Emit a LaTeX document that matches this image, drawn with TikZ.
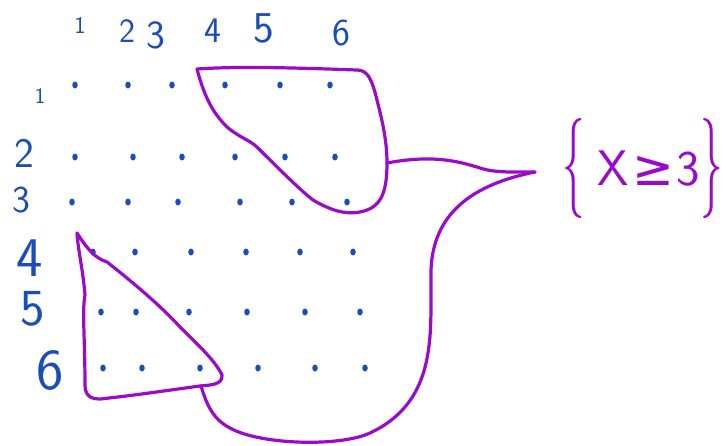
\documentclass[tikz,border=0pt]{standalone}
\usepackage{fontspec}
\usepackage{tikz}
\usetikzlibrary{shapes.geometric}
\newfontfamily\symfont{DejaVu Sans}

\definecolor{inkblue}{RGB}{26,77,184}
\definecolor{inkpurple}{RGB}{154,10,203}

\newcommand{\tallbrace}[1]{\raisebox{-0.15em}{\scalebox{0.9}[2.0]{#1}}}

\begin{document}
\begin{tikzpicture}[x=1pt,y=-1pt,
  dot/.style={ellipse,fill=inkblue,inner sep=0pt,minimum width=5.5pt,minimum height=7pt},
  lbl/.style={text=inkblue,inner sep=0pt},
  region/.style={draw=inkpurple,line width=3.2pt,line cap=round,line join=round}]
\useasboundingbox (0,0) rectangle (726,445);

% column labels
\node[lbl,font=\sffamily\fontsize{24}{24}\selectfont] (c1) at (80,25) {1};
\node[lbl,font=\sffamily\fontsize{34}{34}\selectfont] (c2) at (127,31) {2};
\node[lbl,font=\sffamily\fontsize{40}{40}\selectfont] (c3) at (156,35) {3};
\node[lbl,font=\sffamily\fontsize{36}{36}\selectfont] (c4) at (213,31) {4};
\node[lbl,font=\sffamily\fontsize{44}{44}\selectfont] (c5) at (264,28) {5};
\node[lbl,font=\sffamily\fontsize{38}{38}\selectfont] (c6) at (341,33) {6};

% row labels
\node[lbl,font=\sffamily\fontsize{22}{22}\selectfont] (r1) at (40,96) {1};
\node[lbl,font=\sffamily\fontsize{42}{42}\selectfont] (r2) at (24,153) {2};
\node[lbl,font=\sffamily\fontsize{38}{38}\selectfont] (r3) at (21,200) {3};
\node[lbl,font=\sffamily\fontsize{56}{56}\selectfont] (r4) at (30,258) {4};
\node[lbl,font=\sffamily\fontsize{52}{52}\selectfont] (r5) at (33,309) {5};
\node[lbl,font=\sffamily\fontsize{58}{58}\selectfont] (r6) at (50,370) {6};

% the 36 outcomes
\foreach \r/\y/\xs in {1/85/{75,128,172,225,280,330},
                       2/157/{75,133,182,235,285,335},
                       3/202/{72,128,178,240,292,347},
                       4/252/{93,135,191,246,300,353},
                       5/312/{101,136,189,247,305,360},
                       6/368/{103,142,200,258,315,365}}
  \foreach \x [count=\c] in \xs
    \node[dot] (d\r\c) at (\x,\y) {};

% event {X >= 3}
\node[text=inkpurple,inner sep=0pt,anchor=west,font=\sffamily\fontsize{50}{50}\selectfont] (ev) at (562,168)
  {\tallbrace{\{}\kern0.25em X\kern0.08em{\symfont ≥}\kern0.05em 3\tallbrace{\}}};

% the two parts of the event
\draw[region] (197,69) .. controls (205,100) and (215,115) .. (227,127)
  .. controls (240,138) and (250,140) .. (258,148)
  .. controls (275,165) and (300,190) .. (313,200)
  .. controls (330,210) and (345,215) .. (360,212)
  .. controls (380,208) and (387,195) .. (387,163)
  .. controls (387,140) and (382,120) .. (377,100)
  .. controls (372,80) and (368,70) .. (357,70)
  .. controls (300,68) and (240,66) .. (197,69) -- cycle;
\draw[region] (77,233) .. controls (88,250) and (95,258) .. (107,262)
  .. controls (130,280) and (160,305) .. (180,327)
  .. controls (195,342) and (215,360) .. (222,375)
  .. controls (223,385) and (210,385) .. (200,386)
  .. controls (170,390) and (130,396) .. (100,399)
  .. controls (90,399) and (85,395) .. (85,385)
  .. controls (85,340) and (82,310) .. (85,295)
  .. controls (83,270) and (78,250) .. (77,233) -- cycle;

% connectors to the event
\coordinate (hi) at (387,163);
\coordinate (lo) at (201,386);
\coordinate (tip) at (535,172);
\draw[region] (hi) .. controls (430,155) and (455,160) .. (480,168)
  .. controls (495,173) and (515,172) .. (tip);
\draw[region] (tip) .. controls (470,185) and (433,215) .. (431,270)
  .. controls (430,330) and (440,400) .. (370,433)
  .. controls (340,447) and (260,445) .. (230,428)
  .. controls (210,418) and (205,398) .. (lo);
\end{tikzpicture}
\end{document}
